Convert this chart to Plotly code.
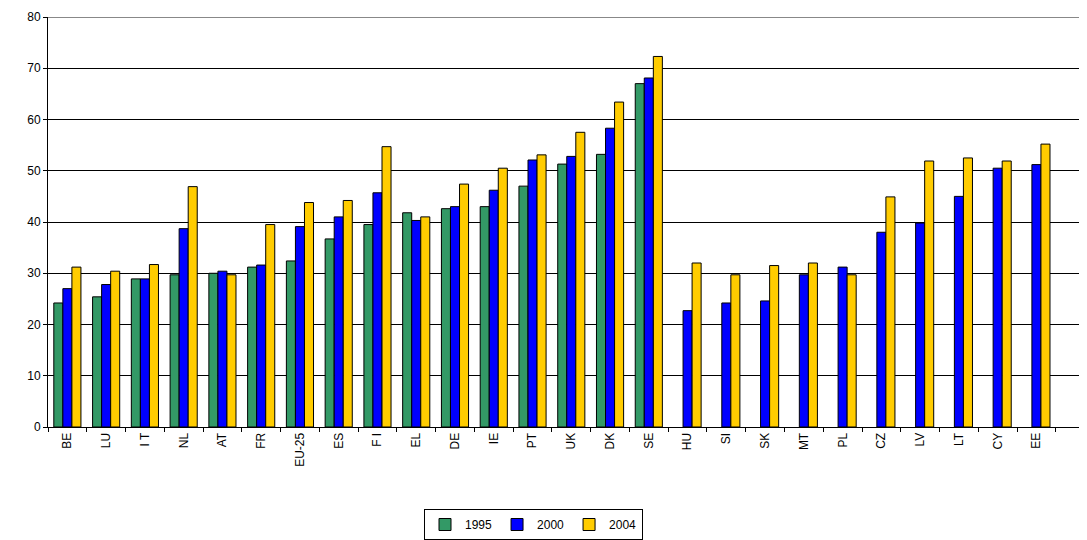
import plotly.graph_objects as go

countries = ["BE", "LU", "I T", "NL", "AT", "FR", "EU-25", "ES", "F I", "EL", "DE", "IE", "PT",
             "UK", "DK", "SE", "HU", "SI", "SK", "MT", "PL", "CZ", "LV", "LT", "CY", "EE"]

y1995 = [24.2, 25.4, 28.9, 29.7, 30.0, 31.2, 32.4, 36.7, 39.5, 41.8, 42.6, 43.0, 47.0,
         51.3, 53.2, 67.0, None, None, None, None, None, None, None, None, None, None]
y2000 = [27.0, 27.8, 28.9, 38.7, 30.4, 31.6, 39.1, 41.0, 45.7, 40.3, 43.0, 46.2, 52.1,
         52.8, 58.3, 68.1, 22.7, 24.2, 24.6, 29.7, 31.2, 38.0, 39.8, 45.0, 50.5, 51.2]
y2004 = [31.2, 30.4, 31.7, 46.9, 29.7, 39.5, 43.8, 44.2, 54.7, 41.0, 47.4, 50.5, 53.1,
         57.5, 63.4, 72.3, 32.0, 29.7, 31.5, 32.0, 29.7, 44.9, 51.9, 52.5, 51.9, 55.2]

fig = go.Figure()
for name, vals, col in [("1995", y1995, "#339966"), ("2000", y2000, "#0000FF"), ("2004", y2004, "#FFCC00")]:
    fig.add_trace(go.Bar(x=countries, y=vals, name=name,
                         marker=dict(color=col, line=dict(color="black", width=1))))

fig.update_layout(
    width=1087, height=540,
    margin=dict(l=40, r=14, t=9, b=121, autoexpand=False),
    paper_bgcolor="white", plot_bgcolor="white",
    font=dict(family="Liberation Sans", size=12, color="black"),
    barmode="group", bargap=0.3, bargroupgap=0,
    xaxis=dict(tickangle=-90, showline=True, linecolor="black", linewidth=1,
               range=[-0.5, 26.15], automargin=False,
               ticks="outside", tickson="boundaries", ticklen=4, tickcolor="black"),
    yaxis=dict(range=[0, 80], dtick=10, showgrid=True, gridcolor="black", gridwidth=1,
               showline=True, linecolor="black", linewidth=1, ticks="outside", ticklen=4,
               tickcolor="black", zeroline=False, automargin=False),
    legend=dict(orientation="h", x=0.47, xanchor="center", y=-0.2, yanchor="top",
                bordercolor="black", borderwidth=1, font=dict(size=12),
                itemwidth=30, tracegroupgap=0),
    shapes=[dict(type="line", xref="paper", yref="y", x0=0, x1=1, y0=80, y1=80,
                 line=dict(color="#888888", width=2))],
)

fig.write_html("out.html")
